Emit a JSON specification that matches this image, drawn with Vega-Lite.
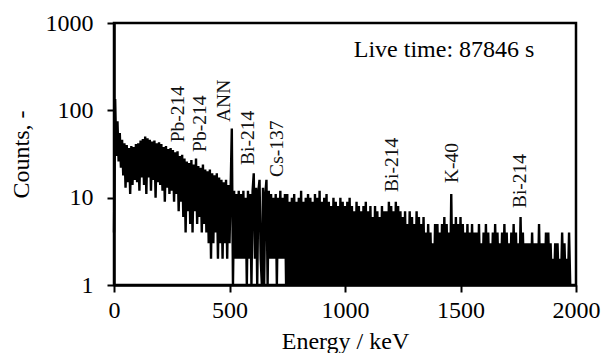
{
"$schema": "https://vega.github.io/schema/vega-lite/v6.json",
"width": 462, "height": 262,
"autosize": {"type": "none"},
"padding": {"left": 114, "top": 23, "right": 27, "bottom": 68},
"background": "white",
"config": {
  "view": {"stroke": "black", "strokeWidth": 2.5},
  "font": "Liberation Serif",
  "axis": {"grid": false, "domainColor": "black", "domainWidth": 2.5, "tickColor": "black", "tickWidth": 2, "tickSize": 7, "labelFont": "Liberation Serif", "labelFontSize": 24, "labelColor": "black", "titleFont": "Liberation Serif", "titleFontSize": 24, "titleFontWeight": "normal", "titleColor": "black", "labelFlush": false}
},
"datasets": {
"spectrum": [
{"e":0,"c":4},{"e":5,"c":135},{"e":10,"c":30},{"e":15,"c":75},{"e":20,"c":26},{"e":25,"c":55},{"e":30,"c":22},{"e":35,"c":46},{"e":40,"c":18},{"e":45,"c":42},
{"e":50,"c":13},{"e":55,"c":40},{"e":60,"c":15},{"e":65,"c":37},{"e":70,"c":11},{"e":75,"c":39},{"e":80,"c":14},{"e":85,"c":38},{"e":90,"c":16},{"e":95,"c":41},
{"e":100,"c":15},{"e":105,"c":42},{"e":110,"c":12},{"e":115,"c":45},{"e":120,"c":17},{"e":125,"c":47},{"e":130,"c":14},{"e":135,"c":50},{"e":140,"c":11},{"e":145,"c":48},
{"e":150,"c":17},{"e":155,"c":46},{"e":160,"c":12},{"e":165,"c":44},{"e":170,"c":16},{"e":175,"c":45},{"e":180,"c":10},{"e":185,"c":42},{"e":190,"c":15},{"e":195,"c":43},
{"e":200,"c":14},{"e":205,"c":41},{"e":210,"c":12},{"e":215,"c":38},{"e":220,"c":9},{"e":225,"c":39},{"e":230,"c":13},{"e":235,"c":36},{"e":240,"c":11},{"e":245,"c":37},
{"e":250,"c":12},{"e":255,"c":35},{"e":260,"c":9},{"e":265,"c":33},{"e":270,"c":11},{"e":275,"c":34},{"e":280,"c":7},{"e":285,"c":30},{"e":290,"c":9},{"e":295,"c":31},
{"e":300,"c":6},{"e":305,"c":28},{"e":310,"c":4},{"e":315,"c":26},{"e":320,"c":7},{"e":325,"c":25},{"e":330,"c":5},{"e":335,"c":27},{"e":340,"c":4},{"e":345,"c":24},
{"e":350,"c":7},{"e":355,"c":28},{"e":360,"c":5},{"e":365,"c":23},{"e":370,"c":6},{"e":375,"c":22},{"e":380,"c":4},{"e":385,"c":24},{"e":390,"c":5},{"e":395,"c":21},
{"e":400,"c":4},{"e":405,"c":20},{"e":410,"c":3},{"e":415,"c":21},{"e":420,"c":2},{"e":425,"c":19},{"e":430,"c":3},{"e":435,"c":18},{"e":440,"c":4},{"e":445,"c":19},
{"e":450,"c":2},{"e":455,"c":17},{"e":460,"c":3},{"e":465,"c":16},{"e":470,"c":2},{"e":475,"c":15},{"e":480,"c":3},{"e":485,"c":16},{"e":490,"c":2},{"e":495,"c":14},
{"e":500,"c":3},{"e":505,"c":13},{"e":510,"c":62},{"e":515,"c":1},{"e":520,"c":12},{"e":525,"c":2},{"e":530,"c":11},{"e":535,"c":2},{"e":540,"c":12},{"e":545,"c":2},
{"e":550,"c":11},{"e":555,"c":2},{"e":560,"c":12},{"e":565,"c":2},{"e":570,"c":10},{"e":575,"c":1},{"e":580,"c":12},{"e":585,"c":2},{"e":590,"c":11},{"e":595,"c":1},
{"e":600,"c":12},{"e":605,"c":19},{"e":610,"c":2},{"e":615,"c":13},{"e":620,"c":1},{"e":625,"c":12},{"e":630,"c":16},{"e":635,"c":2},{"e":640,"c":1},{"e":645,"c":13},
{"e":650,"c":1},{"e":655,"c":11},{"e":660,"c":16},{"e":665,"c":1},{"e":670,"c":12},{"e":675,"c":2},{"e":680,"c":11},{"e":685,"c":2},{"e":690,"c":10},{"e":695,"c":2},
{"e":700,"c":11},{"e":705,"c":1},{"e":710,"c":10},{"e":715,"c":2},{"e":720,"c":12},{"e":725,"c":2},{"e":730,"c":10},{"e":735,"c":2},{"e":740,"c":11},{"e":745,"c":1},
{"e":750,"c":11},{"e":755,"c":1},{"e":760,"c":9},{"e":765,"c":1},{"e":770,"c":10},{"e":775,"c":1},{"e":780,"c":11},{"e":785,"c":1},{"e":790,"c":9},{"e":795,"c":1},
{"e":800,"c":10},{"e":805,"c":1},{"e":810,"c":12},{"e":815,"c":1},{"e":820,"c":9},{"e":825,"c":1},{"e":830,"c":10},{"e":835,"c":1},{"e":840,"c":11},{"e":845,"c":1},
{"e":850,"c":10},{"e":855,"c":1},{"e":860,"c":9},{"e":865,"c":1},{"e":870,"c":11},{"e":875,"c":1},{"e":880,"c":10},{"e":885,"c":1},{"e":890,"c":12},{"e":895,"c":1},
{"e":900,"c":9},{"e":905,"c":1},{"e":910,"c":10},{"e":915,"c":1},{"e":920,"c":11},{"e":925,"c":1},{"e":930,"c":9},{"e":935,"c":1},{"e":940,"c":8},{"e":945,"c":1},
{"e":950,"c":10},{"e":955,"c":1},{"e":960,"c":9},{"e":965,"c":1},{"e":970,"c":8},{"e":975,"c":1},{"e":980,"c":10},{"e":985,"c":1},{"e":990,"c":9},{"e":995,"c":1},
{"e":1000,"c":8},{"e":1005,"c":1},{"e":1010,"c":9},{"e":1015,"c":1},{"e":1020,"c":10},{"e":1025,"c":1},{"e":1030,"c":8},{"e":1035,"c":1},{"e":1040,"c":7},{"e":1045,"c":1},
{"e":1050,"c":9},{"e":1055,"c":1},{"e":1060,"c":8},{"e":1065,"c":1},{"e":1070,"c":7},{"e":1075,"c":1},{"e":1080,"c":8},{"e":1085,"c":1},{"e":1090,"c":9},{"e":1095,"c":1},
{"e":1100,"c":7},{"e":1105,"c":1},{"e":1110,"c":8},{"e":1115,"c":1},{"e":1120,"c":6},{"e":1125,"c":1},{"e":1130,"c":8},{"e":1135,"c":1},{"e":1140,"c":7},{"e":1145,"c":1},
{"e":1150,"c":6},{"e":1155,"c":1},{"e":1160,"c":8},{"e":1165,"c":1},{"e":1170,"c":7},{"e":1175,"c":1},{"e":1180,"c":7},{"e":1185,"c":1},{"e":1190,"c":9},{"e":1195,"c":1},
{"e":1200,"c":8},{"e":1205,"c":1},{"e":1210,"c":7},{"e":1215,"c":1},{"e":1220,"c":9},{"e":1225,"c":1},{"e":1230,"c":8},{"e":1235,"c":1},{"e":1240,"c":7},{"e":1245,"c":1},
{"e":1250,"c":6},{"e":1255,"c":1},{"e":1260,"c":7},{"e":1265,"c":1},{"e":1270,"c":5},{"e":1275,"c":1},{"e":1280,"c":7},{"e":1285,"c":1},{"e":1290,"c":6},{"e":1295,"c":1},
{"e":1300,"c":5},{"e":1305,"c":1},{"e":1310,"c":7},{"e":1315,"c":1},{"e":1320,"c":6},{"e":1325,"c":1},{"e":1330,"c":5},{"e":1335,"c":1},{"e":1340,"c":6},{"e":1345,"c":1},
{"e":1350,"c":4},{"e":1355,"c":1},{"e":1360,"c":5},{"e":1365,"c":1},{"e":1370,"c":4},{"e":1375,"c":1},{"e":1380,"c":3},{"e":1385,"c":1},{"e":1390,"c":5},{"e":1395,"c":1},
{"e":1400,"c":5},{"e":1405,"c":1},{"e":1410,"c":4},{"e":1415,"c":1},{"e":1420,"c":5},{"e":1425,"c":1},{"e":1430,"c":6},{"e":1435,"c":1},{"e":1440,"c":5},{"e":1445,"c":1},
{"e":1450,"c":4},{"e":1455,"c":1},{"e":1460,"c":11},{"e":1465,"c":1},{"e":1470,"c":5},{"e":1475,"c":1},{"e":1480,"c":6},{"e":1485,"c":1},{"e":1490,"c":5},{"e":1495,"c":1},
{"e":1500,"c":6},{"e":1505,"c":1},{"e":1510,"c":5},{"e":1515,"c":1},{"e":1520,"c":4},{"e":1525,"c":1},{"e":1530,"c":5},{"e":1535,"c":1},{"e":1540,"c":4},{"e":1545,"c":1},
{"e":1550,"c":5},{"e":1555,"c":1},{"e":1560,"c":4},{"e":1565,"c":1},{"e":1570,"c":4},{"e":1575,"c":1},{"e":1580,"c":5},{"e":1585,"c":1},{"e":1590,"c":3},{"e":1595,"c":1},
{"e":1600,"c":4},{"e":1605,"c":1},{"e":1610,"c":5},{"e":1615,"c":1},{"e":1620,"c":4},{"e":1625,"c":1},{"e":1630,"c":3},{"e":1635,"c":1},{"e":1640,"c":4},{"e":1645,"c":1},
{"e":1650,"c":5},{"e":1655,"c":1},{"e":1660,"c":4},{"e":1665,"c":1},{"e":1670,"c":3},{"e":1675,"c":1},{"e":1680,"c":4},{"e":1685,"c":1},{"e":1690,"c":5},{"e":1695,"c":1},
{"e":1700,"c":4},{"e":1705,"c":1},{"e":1710,"c":3},{"e":1715,"c":1},{"e":1720,"c":4},{"e":1725,"c":1},{"e":1730,"c":5},{"e":1735,"c":1},{"e":1740,"c":4},{"e":1745,"c":1},
{"e":1750,"c":3},{"e":1755,"c":1},{"e":1760,"c":6},{"e":1765,"c":1},{"e":1770,"c":4},{"e":1775,"c":1},{"e":1780,"c":3},{"e":1785,"c":1},{"e":1790,"c":3},{"e":1795,"c":1},
{"e":1800,"c":3},{"e":1805,"c":1},{"e":1810,"c":4},{"e":1815,"c":1},{"e":1820,"c":3},{"e":1825,"c":1},{"e":1830,"c":3},{"e":1835,"c":1},{"e":1840,"c":5},{"e":1845,"c":1},
{"e":1850,"c":3},{"e":1855,"c":1},{"e":1860,"c":3},{"e":1865,"c":1},{"e":1870,"c":4},{"e":1875,"c":1},{"e":1880,"c":4},{"e":1885,"c":1},{"e":1890,"c":3},{"e":1895,"c":1},
{"e":1900,"c":2},{"e":1905,"c":1},{"e":1910,"c":3},{"e":1915,"c":1},{"e":1920,"c":3},{"e":1925,"c":1},{"e":1930,"c":2},{"e":1935,"c":1},{"e":1940,"c":4},{"e":1945,"c":1},
{"e":1950,"c":3},{"e":1955,"c":1},{"e":1960,"c":2},{"e":1965,"c":1},{"e":1970,"c":4},{"e":1975,"c":1}
],
"peaks": [
{"e":278,"c":43,"label":"Pb-214"},
{"e":372,"c":33.4,"label":"Pb-214"},
{"e":476,"c":73.6,"label":"ANN"},
{"e":581,"c":23.7,"label":"Bi-214"},
{"e":705,"c":17.3,"label":"Cs-137"},
{"e":1203,"c":11.6,"label":"Bi-214"},
{"e":1463,"c":14.7,"label":"K-40"},
{"e":1758,"c":7.6,"label":"Bi-214"}
],
"note": [
{"e":1429,"c":409,"label":"Live time: 87846 s"}
]
},
"layer": [
{
  "data": {"name": "spectrum"},
  "mark": {"type": "line", "color": "black", "strokeWidth": 2.4, "strokeJoin": "bevel"},
  "encoding": {
    "x": {"field": "e", "type": "quantitative", "scale": {"domain": [0, 2000], "nice": false},
          "axis": {"values": [0, 500, 1000, 1500, 2000], "format": "d", "title": "Energy / keV", "labelPadding": 6, "titlePadding": 7}},
    "y": {"field": "c", "type": "quantitative", "scale": {"type": "log", "domain": [1, 1000], "nice": false},
          "axis": {"values": [1, 10, 100, 1000], "format": "d", "title": "Counts, -", "labelPadding": 14, "titlePadding": 12}}
  }
},
{
  "data": {"name": "peaks"},
  "mark": {"type": "text", "angle": 270, "align": "left", "baseline": "middle", "font": "Liberation Serif", "fontSize": 19.5, "color": "#111111"},
  "encoding": {
    "x": {"field": "e", "type": "quantitative"},
    "y": {"field": "c", "type": "quantitative"},
    "text": {"field": "label"}
  }
},
{
  "data": {"name": "note"},
  "mark": {"type": "text", "align": "center", "baseline": "alphabetic", "font": "Liberation Serif", "fontSize": 24, "color": "black"},
  "encoding": {
    "x": {"field": "e", "type": "quantitative"},
    "y": {"field": "c", "type": "quantitative"},
    "text": {"field": "label"}
  }
}
]
}
